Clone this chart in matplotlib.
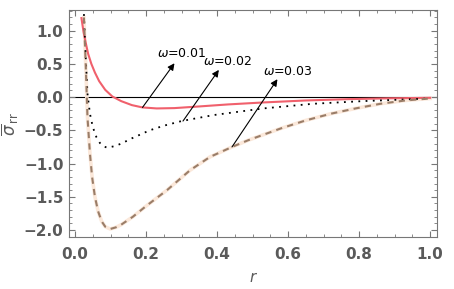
import matplotlib
matplotlib.use("Agg")
import matplotlib.pyplot as plt
from matplotlib.ticker import MultipleLocator

# values
r_w1 = [0.018, 0.024, 0.030, 0.037, 0.046, 0.056, 0.068, 0.085, 0.105, 0.13,
        0.16, 0.19, 0.23, 0.28, 0.35, 0.43, 0.53, 0.65, 0.77, 0.88, 1.00]
s_w1 = [1.19, 0.98, 0.82, 0.65, 0.50, 0.37, 0.24, 0.11, 0.01, -0.06,
        -0.12, -0.155, -0.17, -0.165, -0.14, -0.11, -0.08, -0.05, -0.03, -0.018, -0.01]

r_w2 = [0.025, 0.030, 0.035, 0.042, 0.050, 0.060, 0.070, 0.080, 0.090,
        0.110, 0.13, 0.16, 0.21, 0.25, 0.30, 0.39, 0.53, 0.67, 0.81, 1.00]
s_w2 = [1.25, 0.60, 0.05, -0.25, -0.45, -0.60, -0.69, -0.74, -0.76,
        -0.74, -0.70, -0.62, -0.50, -0.43, -0.36, -0.27, -0.17, -0.10, -0.06, -0.02]

r_w3 = [0.025, 0.030, 0.035, 0.042, 0.048, 0.056, 0.065, 0.075, 0.085, 0.099,
        0.115, 0.13, 0.163, 0.20, 0.259, 0.324, 0.38, 0.442, 0.487, 0.58, 0.65,
        0.72, 0.79, 0.86, 0.93, 1.00]
s_w3 = [1.20, 0.50, -0.30, -0.85, -1.20, -1.50, -1.72, -1.87, -1.95, -1.985,
        -1.96, -1.92, -1.80, -1.64, -1.40, -1.10, -0.90, -0.75, -0.65, -0.47, -0.35,
        -0.25, -0.17, -0.10, -0.05, -0.02]

labels = [r"$\omega$=0.01", r"$\omega$=0.02", r"$\omega$=0.03"]
arrow_tails = [(0.19, -0.155), (0.304, -0.36), (0.442, -0.75)]
arrow_heads = [(0.28, 0.51), (0.405, 0.41), (0.57, 0.27)]
label_pos = [(0.30, 0.65), (0.43, 0.54), (0.60, 0.39)]

TICK_GRAY = "#5a5a5a"

fig = plt.figure(figsize=(4.54, 2.89), dpi=100)
ax = fig.add_axes([0.152, 0.18, 0.811, 0.785])

ax.axhline(0, color="black", lw=0.8, zorder=1)
ax.plot(r_w1, s_w1, color="#f0606c", lw=1.5, zorder=3)
ax.plot(r_w2, s_w2, color="black", lw=1.3, ls=(0, (1, 3)), zorder=3)
ax.plot(r_w3, s_w3, color="#fbe8da", lw=2.6, zorder=2)
ax.plot(r_w3, s_w3, color="#9a7d68", lw=1.5, ls=(0, (3, 2.5)), zorder=3)

for lab, tail, head, pos in zip(labels, arrow_tails, arrow_heads, label_pos):
    ax.annotate("", xy=head, xytext=tail,
                arrowprops=dict(arrowstyle="-|>", color="black", lw=0.8,
                                mutation_scale=10, shrinkA=0, shrinkB=0),
                zorder=4)
    ax.text(pos[0], pos[1], lab, ha="center", va="center", fontsize=9,
            color="black", zorder=4)

ax.set_xlim(-0.017, 1.02)
ax.set_ylim(-2.105, 1.31)
ax.xaxis.set_major_locator(MultipleLocator(0.2))
ax.xaxis.set_minor_locator(MultipleLocator(0.05))
ax.yaxis.set_major_locator(MultipleLocator(0.5))
ax.yaxis.set_minor_locator(MultipleLocator(0.1))
ax.tick_params(which="both", direction="in", top=True, right=True,
               color="#777777", labelcolor=TICK_GRAY)
ax.tick_params(which="major", length=4, width=0.8, labelsize=11, pad=4)
ax.tick_params(which="minor", length=2, width=0.6)
ax.tick_params(axis="x", pad=7)
for lab in ax.get_xticklabels() + ax.get_yticklabels():
    lab.set_fontweight("bold")
for sp in ax.spines.values():
    sp.set_color("#777777")
    sp.set_linewidth(0.8)

ax.set_xlabel(r"$r$", fontsize=11, color=TICK_GRAY, labelpad=6)
ax.set_ylabel(r"$\overline{\sigma}_{\,\mathrm{rr}}$", fontsize=12,
              color=TICK_GRAY, labelpad=2)

fig.savefig("out.png", dpi=100, facecolor="white")
